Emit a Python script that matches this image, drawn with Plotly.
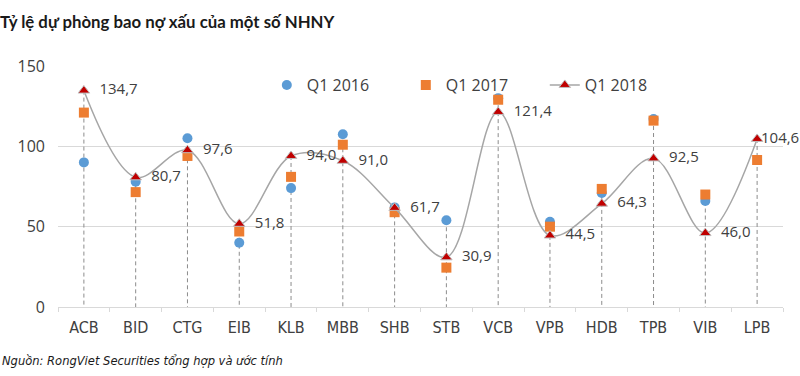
import plotly.graph_objects as go

banks = ["ACB", "BID", "CTG", "EIB", "KLB", "MBB", "SHB", "STB", "VCB", "VPB", "HDB", "TPB", "VIB", "LPB"]
q1_2016 = [90, 78, 105, 40, 74, 107.5, 62, 54, 130, 53, 71, 117, 66, None]
q1_2017 = [121, 71.5, 94, 47, 81, 101, 59, 24.5, 129, 50, 73.5, 116, 70, 91.5]
q1_2018 = [134.7, 80.7, 97.6, 51.8, 94.0, 91.0, 61.7, 30.9, 121.4, 44.5, 64.3, 92.5, 46.0, 104.6]
y_ticks = [0, 50, 100, 150]

GREY_TXT = "#404040"

# drop lines from the highest point of each category to the axis
dx, dy = [], []
for b, a, c, d in zip(banks, q1_2016, q1_2017, q1_2018):
    top = max(v for v in (a, c, d) if v is not None)
    dx += [b, b, None]
    dy += [top, 0, None]

# label padding (last label sits closer to its marker, as in the original)
pads = ["    "] * (len(banks) - 1) + [" "]
labels = [p + f"{v:.1f}".replace(".", ",") for p, v in zip(pads, q1_2018)]

fig = go.Figure()
fig.add_trace(go.Scatter(x=dx, y=dy, mode="lines", showlegend=False, hoverinfo="skip",
                         line=dict(color="#8c8c8c", width=1, dash="4px,3px")))
fig.add_trace(go.Scatter(x=banks, y=q1_2016, mode="markers", name="Q1 2016",
                         marker=dict(symbol="circle", size=10, color="#5b9bd5")))
fig.add_trace(go.Scatter(x=banks, y=q1_2017, mode="markers", name="Q1 2017",
                         marker=dict(symbol="square", size=10, color="#ed7d31")))
fig.add_trace(go.Scatter(x=banks, y=q1_2018, mode="lines+markers", name="Q1 2018",
                         line=dict(color="#a6a6a6", width=1.5, shape="spline", smoothing=1.0),
                         marker=dict(symbol="triangle-up", size=10, color="#c00000",
                                     line=dict(color="#bfbfbf", width=1))))
fig.add_trace(go.Scatter(x=banks, y=q1_2018, mode="text", showlegend=False, hoverinfo="skip",
                         text=labels, textposition="middle right", cliponaxis=False,
                         textfont=dict(family="Open Sans", size=15, color=GREY_TXT)))

fig.update_layout(
    width=800, height=376,
    margin=dict(l=58, r=17, t=66, b=69, autoexpand=False),
    paper_bgcolor="white", plot_bgcolor="white",
    title=dict(text="<b>Tỷ lệ dự phòng bao nợ xấu của một số NHNY</b>",
               x=0, xref="container", xanchor="left", y=1 - 22 / 376, yanchor="middle",
               font=dict(family="Lato", size=16.8, color="#1a1a1a"), pad=dict(l=0, t=0, b=0, r=0)),
    legend=dict(orientation="h", x=0.288, y=0.921, xanchor="left", yanchor="middle",
                font=dict(family="Open Sans", size=16, color=GREY_TXT),
                entrywidth=94, entrywidthmode="pixels", bgcolor="rgba(0,0,0,0)"),
    xaxis=dict(type="category", categoryorder="array", categoryarray=banks,
               showgrid=False, showline=True, linecolor="#d9d9d9", linewidth=1,
               ticks="outside", tickson="boundaries", ticklen=4, tickcolor="#d9d9d9",
               ticklabelstandoff=6,
               tickfont=dict(family="Liberation Sans Narrow, DejaVu Sans Condensed", size=16, color=GREY_TXT),
               range=[-0.5, len(banks) - 0.5]),
    yaxis=dict(range=[0, 150], tickvals=y_ticks, showgrid=True, gridcolor="#d9d9d9", gridwidth=1,
               zeroline=False, ticks="", ticklabelstandoff=12,
               tickfont=dict(family="Open Sans", size=16, color=GREY_TXT)),
)
fig.add_annotation(text="<i>Nguồn: RongViet Securities tổng hợp và ước tính</i>",
                   xref="paper", yref="paper", x=-58/725, y=-0.22, xanchor="left", yanchor="middle",
                   showarrow=False,
                   font=dict(family="Liberation Sans Narrow, DejaVu Sans Condensed", size=12.8, color="#1a1a1a"))
fig.write_html("out.html", config={"displayModeBar": False},
               post_script="document.body.style.margin='0';document.body.style.overflow='hidden';")
